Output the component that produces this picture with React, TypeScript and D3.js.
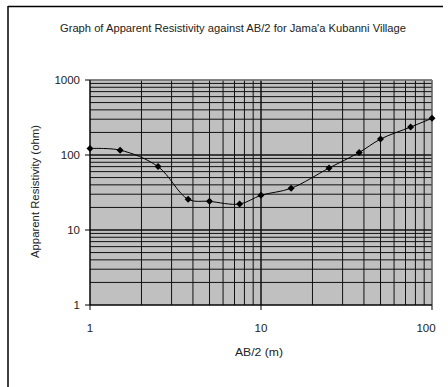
import React from "react";
import * as d3 from "d3";

// AB/2 spacing (m) and apparent resistivity (ohm)
const abHalf = [1, 1.5, 2.5, 3.75, 5, 7.5, 10, 15, 25, 37.5, 50, 75, 100];
const resistivity = [122, 116, 70, 25.7, 24.1, 22.2, 29, 36, 67, 108, 163, 236, 308];
const xTicks = [1, 10, 100];
const yTicks = [1, 10, 100, 1000];

const title = "Graph of Apparent Resistivity against AB/2 for Jama'a Kubanni Village";

const W = 448;
const H = 387;
const left = 90;
const right = 432;
const top = 80;
const bottom = 305;

const App = () => {
  const x = d3.scaleLog().domain([1, 100]).range([left, right]);
  const y = d3.scaleLog().domain([1, 1000]).range([bottom, top]);

  // minor + major grid positions
  const xGrid: number[] = [];
  for (let d = 1; d < 100; d *= 10) for (let k = 1; k <= 10; k++) xGrid.push(d * k);
  const yGrid: number[] = [];
  for (let d = 1; d < 1000; d *= 10) for (let k = 1; k <= 10; k++) yGrid.push(d * k);

  const points = abHalf.map((a, i) => [x(a), y(resistivity[i])] as [number, number]);
  const line = d3.line().curve(d3.curveCatmullRom.alpha(0.5));

  const font = "'Liberation Sans', Arial, sans-serif";

  return (
    <svg
      width={W}
      height={H}
      style={{ position: "absolute", left: 0, top: 0, background: "#fff" }}
      fontFamily={font}
    >
      <line x1={8} y1={6.5} x2={443} y2={6.5} stroke="#000" strokeWidth={1.5} />
      <line x1={8} y1={6} x2={8} y2={H} stroke="#000" strokeWidth={1.5} />

      <text x={233} y={32} textAnchor="middle" fontSize={11} fill="#222"
        textLength={346} lengthAdjust="spacingAndGlyphs">
        {title}
      </text>

      <rect x={left} y={top} width={right - left} height={bottom - top} fill="#c0c0c0" />

      {xGrid.map((v, i) => (
        <line key={"gx" + i} x1={x(v)} x2={x(v)} y1={top} y2={bottom} stroke="#111" strokeWidth={1} />
      ))}
      {yGrid.map((v, i) => (
        <line key={"gy" + i} x1={left} x2={right} y1={y(v)} y2={y(v)} stroke="#111" strokeWidth={1} />
      ))}
      <line x1={left} x2={right} y1={top} y2={top} stroke="#808080" strokeWidth={1.5} />
      <line x1={right} x2={right} y1={top} y2={bottom} stroke="#808080" strokeWidth={1} />

      {/* axes */}
      <line x1={left} x2={left} y1={top} y2={bottom} stroke="#000" strokeWidth={1} />
      <line x1={left} x2={right} y1={bottom} y2={bottom} stroke="#000" strokeWidth={1} />
      {yTicks.map((t) => (
        <g key={"yt" + t}>
          <line x1={left - 5} x2={left} y1={y(t)} y2={y(t)} stroke="#000" />
          <text x={left - 10} y={y(t) + 4} textAnchor="end" fontSize={11.5} fill="#222">
            {t}
          </text>
        </g>
      ))}
      {xTicks.map((t) => (
        <g key={"xt" + t}>
          <line x1={x(t)} x2={x(t)} y1={bottom} y2={bottom + 5} stroke="#000" />
          <text x={x(t) - (t === 100 ? 6 : 0)} y={332} textAnchor="middle" fontSize={11.5} fill="#222">
            {t}
          </text>
        </g>
      ))}

      <text
        transform={`translate(39,191.5) rotate(-90)`}
        textAnchor="middle"
        fontSize={11}
        fill="#222"
        textLength={133}
        lengthAdjust="spacingAndGlyphs"
      >
        Apparent Resistivity (ohm)
      </text>
      <text x={259} y={356} textAnchor="middle" fontSize={11} fill="#222"
        textLength={48} lengthAdjust="spacingAndGlyphs">
        AB/2 (m)
      </text>

      <path d={line(points) || ""} fill="none" stroke="#000" strokeWidth={1} />
      {points.map(([px, py], i) => (
        <path key={"m" + i} d={`M${px},${py - 3.5}L${px + 3.5},${py}L${px},${py + 3.5}L${px - 3.5},${py}Z`} fill="#000" />
      ))}
    </svg>
  );
};

export default App;
